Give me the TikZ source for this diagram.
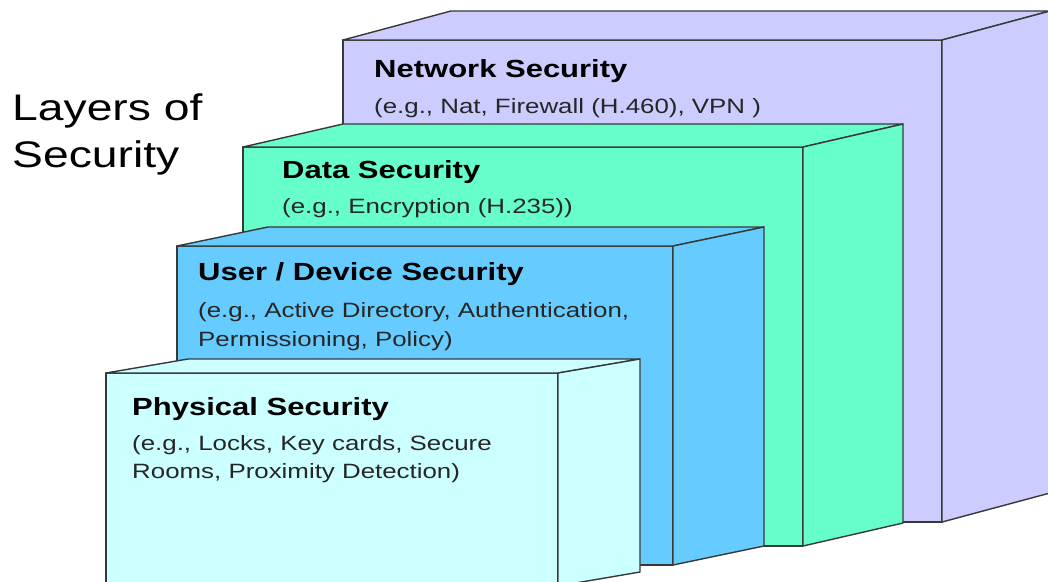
\documentclass[tikz,border=0pt]{standalone}
\usepackage{fontspec}
\setmainfont{Liberation Sans}[FakeStretch=1.25]
\usetikzlibrary{calc}
\definecolor{netc}{HTML}{CCCCFF}
\definecolor{datac}{HTML}{66FFCC}
\definecolor{userc}{HTML}{66CCFF}
\definecolor{physc}{HTML}{CCFFFF}
\definecolor{edgec}{HTML}{383838}
\tikzset{
  boxline/.style={draw=edgec, line width=1.4pt, line join=round},
  titletext/.style={anchor=base west, inner sep=0pt, font=\fontsize{37}{47}\selectfont},
  headtext/.style={anchor=base west, inner sep=0pt, font=\fontsize{24.8}{28}\selectfont\bfseries},
  subtext/.style={anchor=base west, inner sep=0pt, font=\fontsize{20.7}{29}\selectfont, text=black!85}
}
% #1 colour, (#2,#3) front top-left, (#4,#5) front bottom-right, (#6,#7) depth
\newcommand\layerbox[7]{%
  \draw[boxline, fill=#1] (#2,#3) rectangle (#4,#5);
  \draw[boxline, fill=#1] (#2,#3) -- ($(#2,#3)+(#6,#7)$) -- ($(#4,#3)+(#6,#7)$) -- (#4,#3) -- cycle;
  \draw[boxline, fill=#1] (#4,#3) -- ($(#4,#3)+(#6,#7)$) -- ($(#4,#5)+(#6,#7)$) -- (#4,#5) -- cycle;
}
\begin{document}
\begin{tikzpicture}[x=1pt,y=-1pt]
\useasboundingbox (0,0) rectangle (1048,581);
\clip (0,0) rectangle (1048,581);
\fill[white] (0,0) rectangle (1048,581);
% title
\node[titletext] (t1) at (12,120) {Layers of};
\node[titletext] (t2) at (12,167) {Security};
% boxes, back to front
\layerbox{netc}{343}{40}{942}{522}{108}{-29}
\layerbox{datac}{243}{147}{803}{546}{100}{-23}
\layerbox{userc}{177}{246}{673}{565}{91}{-19}
\layerbox{physc}{106}{373}{558}{586}{82}{-14}
% texts
\node[headtext] (nh) at (374,77) {Network Security};
\node[subtext] (ns) at (374,113) {(e.g., Nat, Firewall (H.460), VPN )};
\node[headtext] (dh) at (282,178) {Data Security};
\node[subtext] (ds) at (282,213) {(e.g., Encryption (H.235))};
\node[headtext] (uh) at (198,280) {User / Device Security};
\node[subtext] (us1) at (198,317) {(e.g., Active Directory, Authentication,};
\node[subtext] (us2) at (198,346) {Permissioning, Policy)};
\node[headtext] (ph) at (132,415) {Physical Security};
\node[subtext] (ps1) at (132,450) {(e.g., Locks, Key cards, Secure};
\node[subtext] (ps2) at (132,478) {Rooms, Proximity Detection)};
\end{tikzpicture}
\end{document}
